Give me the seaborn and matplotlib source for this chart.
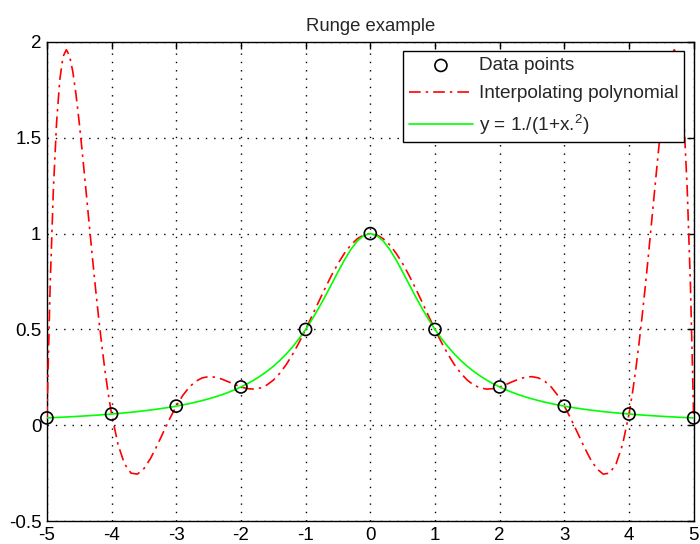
import matplotlib
matplotlib.use("Agg")
import matplotlib.pyplot as plt
import seaborn as sns
import pandas as pd

# sample points (x in both directions)
x_curve = [-5.0, -4.95, -4.9, -4.85, -4.8, -4.75, -4.7, -4.65, -4.6, -4.55,
           -4.5, -4.45, -4.4, -4.35, -4.3, -4.25, -4.2, -4.15, -4.1, -4.05,
           -4.0, -3.9, -3.8, -3.7, -3.6, -3.5, -3.4, -3.3, -3.2, -3.1,
           -3.0, -2.9, -2.8, -2.7, -2.6, -2.5, -2.4, -2.3, -2.2, -2.1,
           -2.0, -1.9, -1.8, -1.7, -1.6, -1.5, -1.4, -1.3, -1.2, -1.1,
           -1.0, -0.9, -0.8, -0.7, -0.6, -0.5, -0.4, -0.3, -0.2, -0.1,
           0.0,
           0.1, 0.2, 0.3, 0.4, 0.5, 0.6, 0.7, 0.8, 0.9, 1.0,
           1.1, 1.2, 1.3, 1.4, 1.5, 1.6, 1.7, 1.8, 1.9, 2.0,
           2.1, 2.2, 2.3, 2.4, 2.5, 2.6, 2.7, 2.8, 2.9, 3.0,
           3.1, 3.2, 3.3, 3.4, 3.5, 3.6, 3.7, 3.8, 3.9, 4.0,
           4.05, 4.1, 4.15, 4.2, 4.25, 4.3, 4.35, 4.4, 4.45, 4.5,
           4.55, 4.6, 4.65, 4.7, 4.75, 4.8, 4.85, 4.9, 4.95, 5.0]

poly_y = [0.0385, 0.7261, 1.2303, 1.5810, 1.8044, 1.9236, 1.9590, 1.9280, 1.8458, 1.7257,
          1.5787, 1.4143, 1.2402, 1.0631, 0.8881, 0.7195, 0.5604, 0.4135, 0.2802, 0.1618,
          0.0588, -0.1007, -0.2013, -0.2496, -0.2546, -0.2262, -0.1743, -0.1083, -0.0363, 0.0349,
          0.1, 0.1554, 0.1987, 0.2292, 0.2472, 0.2538, 0.2510, 0.2415, 0.2278, 0.2131,
          0.2, 0.1912, 0.1888, 0.1946, 0.2099, 0.2353, 0.2710, 0.3165, 0.3708, 0.4326,
          0.5, 0.5710, 0.6432, 0.7142, 0.7818, 0.8434, 0.8971, 0.9409, 0.9734, 0.9933,
          1.0,
          0.9933, 0.9734, 0.9409, 0.8971, 0.8434, 0.7818, 0.7142, 0.6432, 0.5710, 0.5,
          0.4326, 0.3708, 0.3165, 0.2710, 0.2353, 0.2099, 0.1946, 0.1888, 0.1912, 0.2,
          0.2131, 0.2278, 0.2415, 0.2510, 0.2538, 0.2472, 0.2292, 0.1987, 0.1554, 0.1,
          0.0349, -0.0363, -0.1083, -0.1743, -0.2262, -0.2546, -0.2496, -0.2013, -0.1007, 0.0588,
          0.1618, 0.2802, 0.4135, 0.5604, 0.7195, 0.8881, 1.0631, 1.2402, 1.4143, 1.5787,
          1.7257, 1.8458, 1.9280, 1.9590, 1.9236, 1.8044, 1.5810, 1.2303, 0.7261, 0.0385]

runge_y = [0.0385, 0.0392, 0.0400, 0.0408, 0.0416, 0.0424, 0.0433, 0.0442, 0.0451, 0.0461,
           0.0471, 0.0481, 0.0491, 0.0502, 0.0513, 0.0525, 0.0536, 0.0549, 0.0562, 0.0575,
           0.0588, 0.0617, 0.0648, 0.0681, 0.0716, 0.0755, 0.0796, 0.0841, 0.0890, 0.0942,
           0.1, 0.1063, 0.1131, 0.1206, 0.1289, 0.1379, 0.1479, 0.1590, 0.1712, 0.1848,
           0.2, 0.2169, 0.2358, 0.2571, 0.2809, 0.3077, 0.3378, 0.3717, 0.4098, 0.4525,
           0.5, 0.5525, 0.6098, 0.6711, 0.7353, 0.8, 0.8621, 0.9174, 0.9615, 0.9901,
           1.0,
           0.9901, 0.9615, 0.9174, 0.8621, 0.8, 0.7353, 0.6711, 0.6098, 0.5525, 0.5,
           0.4525, 0.4098, 0.3717, 0.3378, 0.3077, 0.2809, 0.2571, 0.2358, 0.2169, 0.2,
           0.1848, 0.1712, 0.1590, 0.1479, 0.1379, 0.1289, 0.1206, 0.1131, 0.1063, 0.1,
           0.0942, 0.0890, 0.0841, 0.0796, 0.0755, 0.0716, 0.0681, 0.0648, 0.0617, 0.0588,
           0.0575, 0.0562, 0.0549, 0.0536, 0.0525, 0.0513, 0.0502, 0.0491, 0.0481, 0.0471,
           0.0461, 0.0451, 0.0442, 0.0433, 0.0424, 0.0416, 0.0408, 0.0400, 0.0392, 0.0385]

x_data = [-5, -4, -3, -2, -1, 0, 1, 2, 3, 4, 5]
y_data = [0.0385, 0.0588, 0.1, 0.2, 0.5, 1.0, 0.5, 0.2, 0.1, 0.0588, 0.0385]

x_ticks = [-5, -4, -3, -2, -1, 0, 1, 2, 3, 4, 5]
x_labels = ["-5", "-4", "-3", "-2", "-1", "0", "1", "2", "3", "4", "5"]
y_ticks = [-0.5, 0, 0.5, 1, 1.5, 2]
y_labels = ["-0.5", "0", "0.5", "1", "1.5", "2"]

sns.set_style("white")
plt.rcParams["font.family"] = ["Liberation Sans", "DejaVu Sans"]
plt.rcParams["mathtext.fontset"] = "custom"
plt.rcParams["mathtext.rm"] = "Liberation Sans"
plt.rcParams["axes.unicode_minus"] = False

curves = pd.DataFrame({"x": x_curve, "poly": poly_y, "runge": runge_y})
points = pd.DataFrame({"x": x_data, "y": y_data})

fig = plt.figure(figsize=(7, 5.44), dpi=100)
ax = fig.add_axes([0.067, 0.042, 0.924, 0.881])

sns.scatterplot(data=points, x="x", y="y", ax=ax, marker="o", s=75,
                facecolor="none", edgecolor="black", linewidth=1.2,
                label="Data points", clip_on=False, zorder=4)
sns.lineplot(data=curves, x="x", y="poly", ax=ax, sort=False, estimator=None,
             color="red", linewidth=1.2, linestyle=(0, (7, 3, 1.5, 3)),
             label="Interpolating polynomial", zorder=3)
sns.lineplot(data=curves, x="x", y="runge", ax=ax, sort=False, estimator=None,
             color="#00ff00", linewidth=1.2,
             label=r"y = 1./(1+x.$\mathregular{^2}$)", zorder=3)

ax.set_xlim(-5, 5)
ax.set_ylim(-0.5, 2)
ax.set_xticks(x_ticks)
ax.set_xticklabels(x_labels)
ax.set_yticks(y_ticks)
ax.set_yticklabels(y_labels)
ax.set_xlabel("")
ax.set_ylabel("")
ax.tick_params(direction="in", top=True, right=True, length=5, width=1,
               labelsize=13.5, colors="black", pad=4)
for s in ax.spines.values():
    s.set_color("black")
    s.set_linewidth(1)
ax.grid(True, color="black", linestyle=(0, (1, 5)), linewidth=1)
ax.set_title("Runge example", fontsize=13.3, pad=8)

leg = ax.legend(loc="upper right", fontsize=13.7, frameon=True, fancybox=False,
                edgecolor="black", framealpha=1, borderaxespad=0.5,
                handlelength=3.4, handletextpad=0.3, labelspacing=0.55,
                borderpad=0.3)
leg.get_frame().set_linewidth(1)

fig.savefig("out.png", dpi=100)
